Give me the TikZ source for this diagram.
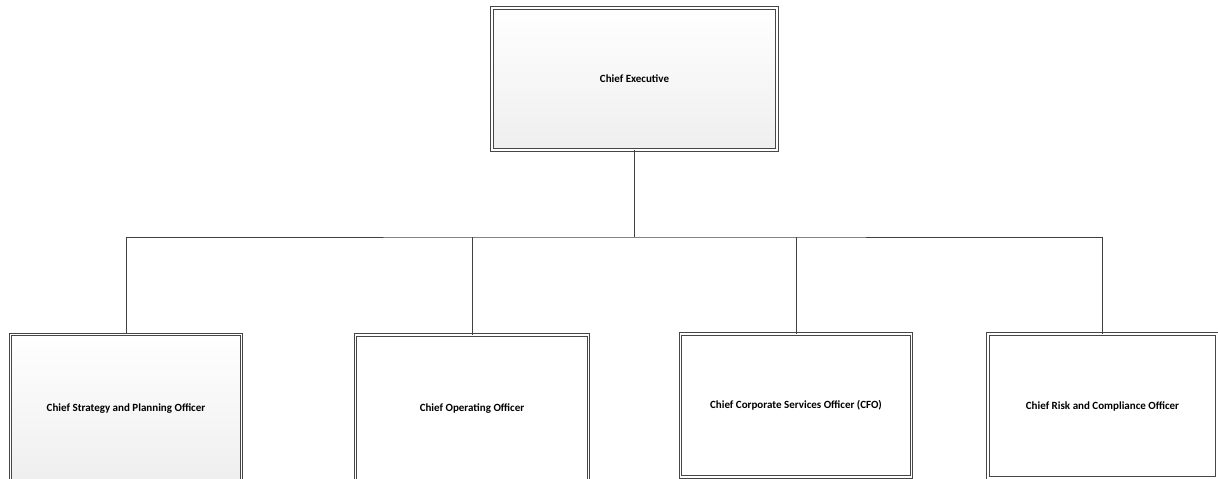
\documentclass[tikz,border=0pt]{standalone}
\usepackage{fontspec}
\setmainfont{Carlito}
\begin{document}
\begin{tikzpicture}[x=1pt,y=-1pt,
  box/.style={draw=gray!55!black, line width=0.9pt, double=white, double distance=1.6pt,
    minimum width=#1, inner sep=0pt, font=\fontsize{11}{13}\selectfont\bfseries, text=black},
  shadedbox/.style={top color=white, bottom color=gray!13},
  plainbox/.style={fill=white},
  conn/.style={draw=black!75, line width=0.9pt}]
\useasboundingbox (0,0) rectangle (1218,479);
\clip (0,0) rectangle (1218,479);
\node[box=285pt, shadedbox, minimum height=142pt] (top) at (634.5,79) {Chief Executive};
\node[box=231pt, shadedbox, minimum height=148pt] (b1) at (126,408.5) {Chief Strategy and Planning Officer};
\node[box=233pt, plainbox, minimum height=147pt] (b2) at (472,408.5) {Chief Operating Officer};
\node[box=231pt, plainbox, minimum height=143pt] (b3) at (796,405.5) {Chief Corporate Services Officer (CFO)};
\node[box=229pt, plainbox, minimum height=144pt] (b4) at (1102.5,406) {Chief Risk and Compliance Officer};
\coordinate (bus) at (634.5,237);
\draw[conn] (top.south) -- (bus);
\draw[conn] (b1.north) |- (bus) -| (b4.north);
\draw[conn] (b2.north) -- (b2.north |- bus);
\draw[conn] (b3.north) -- (b3.north |- bus);
\end{tikzpicture}
\end{document}
